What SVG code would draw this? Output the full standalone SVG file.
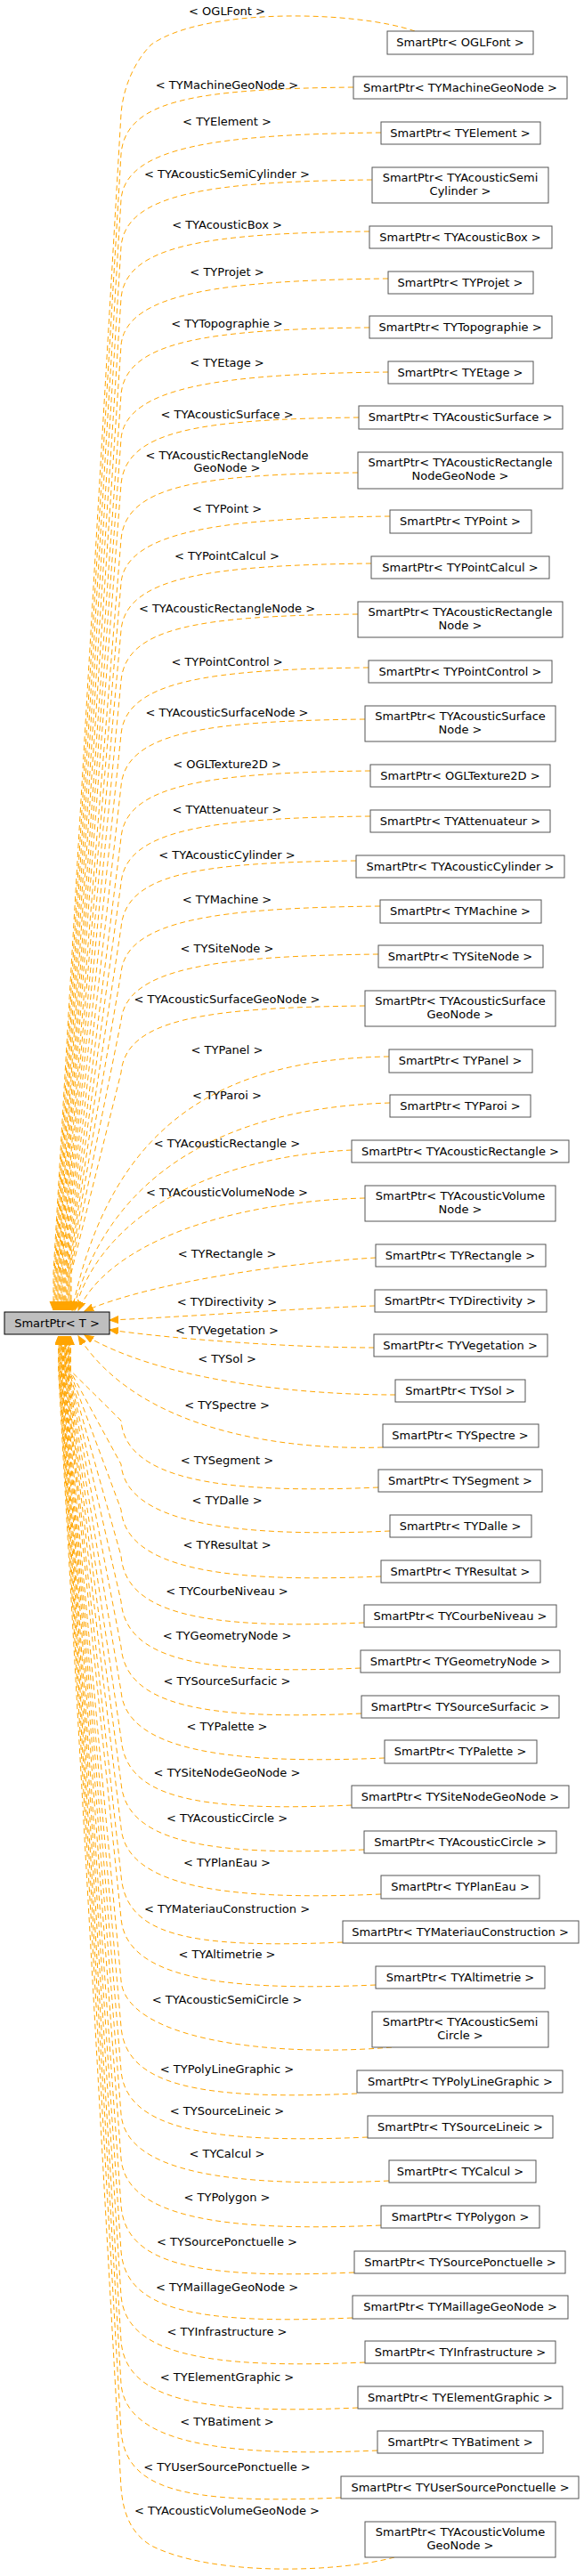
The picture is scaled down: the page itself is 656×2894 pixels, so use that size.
<svg xmlns="http://www.w3.org/2000/svg" width="656" height="2894" viewBox="0 0 656 2894">
<style>
text{font-family:"DejaVu Sans","Liberation Sans",sans-serif;font-size:13px;fill:#000;text-anchor:middle}
.n rect{fill:#fff;stroke:#555;stroke-width:1}
.root rect{fill:#bfbfbf;stroke:#000}
.e path{fill:none;stroke:#ffa500;stroke-width:1;stroke-dasharray:6,4;marker-end:url(#ah)}
</style>
<defs><marker id="ah" markerUnits="userSpaceOnUse" markerWidth="11" markerHeight="9" refX="10" refY="4" orient="auto"><path d="M0,0 L10,4 L0,8 z" fill="#ffa500" stroke="#ffa500"/></marker></defs>
<rect width="656" height="2894" fill="#fff"/>
<g id="edges" class="e">
<path d="M466,35 C400,12 230,8 170,50 C150,70 138,100 136,128 L60,1430 L60,1472"/>
<path d="M397,98 C217,100 141,113 136,173 L61,1430 L61,1472"/>
<path d="M428,149 C248,151 141,164 136,224 L62,1430 L62,1472"/>
<path d="M418,202 C238,204 141,217 136,277 L63,1430 L63,1472"/>
<path d="M415,260 C235,262 141,275 136,335 L64,1430 L64,1472"/>
<path d="M436,313 C256,315 141,328 136,388 L65,1430 L65,1472"/>
<path d="M415,368 C235,370 141,383 136,443 L66,1430 L66,1472"/>
<path d="M436,418 C256,420 141,433 136,493 L67,1430 L67,1472"/>
<path d="M403,469 C223,471 141,484 136,544 L68,1430 L68,1472"/>
<path d="M402,531 C222,533 141,546 136,606 L69,1430 L69,1472"/>
<path d="M438,580 C258,582 141,595 136,655 L70,1430 L70,1472"/>
<path d="M417,633 C237,635 141,648 136,708 L71,1430 L71,1472"/>
<path d="M402,690 C222,692 141,705 136,765 L72,1430 L72,1472"/>
<path d="M414,750 C234,752 141,765 136,825 L73,1430 L73,1472"/>
<path d="M410,808 C230,810 141,823 136,883 L74,1430 L74,1472"/>
<path d="M416,866 C236,868 141,881 136,941 L75,1430 L75,1472"/>
<path d="M416,917 C236,919 141,932 136,992 L76,1430 L76,1472"/>
<path d="M400,967 C220,969 141,982 136,1042 L77,1430 L77,1472"/>
<path d="M427,1018 C247,1020 141,1033 136,1093 L78,1430 L78,1472"/>
<path d="M425,1072 C245,1074 141,1087 136,1147 L79,1430 L79,1472"/>
<path d="M410,1130 C230,1132 141,1145 136,1205 L80,1430 L80,1472"/>
<path d="M437,1187 C250,1190 125,1260 81,1472"/>
<path d="M438,1239 C250,1245 122,1320 82,1472"/>
<path d="M395,1292 C230,1300 112,1370 84,1472"/>
<path d="M410,1346 C250,1350 120,1400 88,1472"/>
<path d="M422,1413 C330,1418 170,1440 95,1473"/>
<path d="M421,1467 C330,1470 200,1480 123,1483"/>
<path d="M420,1514 C330,1514 200,1505 123,1494"/>
<path d="M444,1567 C330,1567 180,1550 95,1500"/>
<path d="M430,1626 C300,1630 150,1600 88,1501"/>
<path d="M425,1671 C245,1679 141,1661 136,1596 L79.4,1540 L79.4,1501"/>
<path d="M438,1720 C258,1728 141,1710 136,1645 L78.8,1540 L78.8,1501"/>
<path d="M428,1771 C248,1779 141,1761 136,1696 L78.2,1540 L78.2,1501"/>
<path d="M409,1823 C229,1831 141,1813 136,1748 L77.6,1540 L77.6,1501"/>
<path d="M405,1874 C225,1882 141,1864 136,1799 L77,1540 L77,1501"/>
<path d="M406,1925 C226,1933 141,1915 136,1850 L76.4,1540 L76.4,1501"/>
<path d="M432,1975 C252,1983 141,1965 136,1900 L75.8,1540 L75.8,1501"/>
<path d="M395,2028 C215,2036 141,2018 136,1953 L75.2,1540 L75.2,1501"/>
<path d="M409,2078 C229,2086 141,2068 136,2003 L74.6,1540 L74.6,1501"/>
<path d="M428,2128 C248,2136 141,2118 136,2053 L74,1540 L74,1501"/>
<path d="M385,2182 C205,2190 141,2172 136,2107 L73.4,1540 L73.4,1501"/>
<path d="M422,2230 C242,2238 141,2220 136,2155 L72.8,1540 L72.8,1501"/>
<path d="M440,2300 C300,2312 141,2290 136,2225 L72.2,1540 L72.2,1501"/>
<path d="M401,2352 C221,2360 141,2342 136,2277 L71.6,1540 L71.6,1501"/>
<path d="M413,2401 C233,2409 141,2391 136,2326 L71,1540 L71,1501"/>
<path d="M437,2450 C257,2458 141,2440 136,2375 L70.4,1540 L70.4,1501"/>
<path d="M428,2500 C248,2508 141,2490 136,2425 L69.8,1540 L69.8,1501"/>
<path d="M398,2553 C218,2561 141,2543 136,2478 L69.2,1540 L69.2,1501"/>
<path d="M396,2604 C216,2612 141,2594 136,2529 L68.6,1540 L68.6,1501"/>
<path d="M410,2654 C230,2662 141,2644 136,2579 L68,1540 L68,1501"/>
<path d="M402,2705 C222,2713 141,2695 136,2630 L67.4,1540 L67.4,1501"/>
<path d="M424,2753 C244,2761 141,2743 136,2678 L66.8,1540 L66.8,1501"/>
<path d="M383,2806 C203,2814 141,2796 136,2731 L66.2,1540 L66.2,1501"/>
<path d="M443,2873 C380,2890 240,2895 170,2860 C145,2845 138,2820 136,2795 L65.6,1540 L65.6,1501"/>
</g>
<g id="labels">
<text x="255" y="16.5">&lt; OGLFont &gt;</text>
<text x="255" y="99.5">&lt; TYMachineGeoNode &gt;</text>
<text x="255" y="140.5">&lt; TYElement &gt;</text>
<text x="255" y="199.5">&lt; TYAcousticSemiCylinder &gt;</text>
<text x="255" y="256.5">&lt; TYAcousticBox &gt;</text>
<text x="255" y="309.5">&lt; TYProjet &gt;</text>
<text x="255" y="367.5">&lt; TYTopographie &gt;</text>
<text x="255" y="411.5">&lt; TYEtage &gt;</text>
<text x="255" y="469.5">&lt; TYAcousticSurface &gt;</text>
<text x="255" y="515.5">&lt; TYAcousticRectangleNode</text>
<text x="255" y="529.5">GeoNode &gt;</text>
<text x="255" y="575.5">&lt; TYPoint &gt;</text>
<text x="255" y="628.5">&lt; TYPointCalcul &gt;</text>
<text x="255" y="687.5">&lt; TYAcousticRectangleNode &gt;</text>
<text x="255" y="747.5">&lt; TYPointControl &gt;</text>
<text x="255" y="804.5">&lt; TYAcousticSurfaceNode &gt;</text>
<text x="255" y="862.5">&lt; OGLTexture2D &gt;</text>
<text x="255" y="913.5">&lt; TYAttenuateur &gt;</text>
<text x="255" y="964.5">&lt; TYAcousticCylinder &gt;</text>
<text x="255" y="1014.5">&lt; TYMachine &gt;</text>
<text x="255" y="1069.5">&lt; TYSiteNode &gt;</text>
<text x="255" y="1126.5">&lt; TYAcousticSurfaceGeoNode &gt;</text>
<text x="255" y="1183.5">&lt; TYPanel &gt;</text>
<text x="255" y="1234.5">&lt; TYParoi &gt;</text>
<text x="255" y="1288.5">&lt; TYAcousticRectangle &gt;</text>
<text x="255" y="1343.5">&lt; TYAcousticVolumeNode &gt;</text>
<text x="255" y="1412.5">&lt; TYRectangle &gt;</text>
<text x="255" y="1466.5">&lt; TYDirectivity &gt;</text>
<text x="255" y="1498.5">&lt; TYVegetation &gt;</text>
<text x="255" y="1530.5">&lt; TYSol &gt;</text>
<text x="255" y="1582.5">&lt; TYSpectre &gt;</text>
<text x="255" y="1644.5">&lt; TYSegment &gt;</text>
<text x="255" y="1689.5">&lt; TYDalle &gt;</text>
<text x="255" y="1739.5">&lt; TYResultat &gt;</text>
<text x="255" y="1791.5">&lt; TYCourbeNiveau &gt;</text>
<text x="255" y="1841.5">&lt; TYGeometryNode &gt;</text>
<text x="255" y="1892.5">&lt; TYSourceSurfacic &gt;</text>
<text x="255" y="1943.5">&lt; TYPalette &gt;</text>
<text x="255" y="1995.5">&lt; TYSiteNodeGeoNode &gt;</text>
<text x="255" y="2046.5">&lt; TYAcousticCircle &gt;</text>
<text x="255" y="2096.5">&lt; TYPlanEau &gt;</text>
<text x="255" y="2148.5">&lt; TYMateriauConstruction &gt;</text>
<text x="255" y="2199.5">&lt; TYAltimetrie &gt;</text>
<text x="255" y="2250.5">&lt; TYAcousticSemiCircle &gt;</text>
<text x="255" y="2328.5">&lt; TYPolyLineGraphic &gt;</text>
<text x="255" y="2375.5">&lt; TYSourceLineic &gt;</text>
<text x="255" y="2423.5">&lt; TYCalcul &gt;</text>
<text x="255" y="2472.5">&lt; TYPolygon &gt;</text>
<text x="255" y="2522.5">&lt; TYSourcePonctuelle &gt;</text>
<text x="255" y="2573.5">&lt; TYMaillageGeoNode &gt;</text>
<text x="255" y="2623.5">&lt; TYInfrastructure &gt;</text>
<text x="255" y="2674.5">&lt; TYElementGraphic &gt;</text>
<text x="255" y="2724.5">&lt; TYBatiment &gt;</text>
<text x="255" y="2775.5">&lt; TYUserSourcePonctuelle &gt;</text>
<text x="255" y="2824.5">&lt; TYAcousticVolumeGeoNode &gt;</text>
</g>
<g id="root" class="root"><rect x="5" y="1474" width="118" height="25"/><text x="64" y="1491">SmartPtr&lt; T &gt;</text></g>
<g id="n1" class="n"><rect x="435" y="35" width="164" height="26"/><text x="517" y="52">SmartPtr&lt; OGLFont &gt;</text></g>
<g id="n2" class="n"><rect x="397" y="86" width="240" height="25"/><text x="517" y="103">SmartPtr&lt; TYMachineGeoNode &gt;</text></g>
<g id="n3" class="n"><rect x="428" y="137" width="179" height="25"/><text x="517" y="154">SmartPtr&lt; TYElement &gt;</text></g>
<g id="n4" class="n"><rect x="418" y="188" width="198" height="40"/><text x="517" y="204">SmartPtr&lt; TYAcousticSemi</text><text x="517" y="219">Cylinder &gt;</text></g>
<g id="n5" class="n"><rect x="415" y="254" width="205" height="25"/><text x="517" y="271">SmartPtr&lt; TYAcousticBox &gt;</text></g>
<g id="n6" class="n"><rect x="436" y="305" width="163" height="25"/><text x="517" y="322">SmartPtr&lt; TYProjet &gt;</text></g>
<g id="n7" class="n"><rect x="415" y="355" width="205" height="25"/><text x="517" y="372">SmartPtr&lt; TYTopographie &gt;</text></g>
<g id="n8" class="n"><rect x="436" y="406" width="163" height="25"/><text x="517" y="423">SmartPtr&lt; TYEtage &gt;</text></g>
<g id="n9" class="n"><rect x="403" y="456" width="229" height="26"/><text x="517" y="473">SmartPtr&lt; TYAcousticSurface &gt;</text></g>
<g id="n10" class="n"><rect x="402" y="508" width="230" height="41"/><text x="517" y="524">SmartPtr&lt; TYAcousticRectangle</text><text x="517" y="539">NodeGeoNode &gt;</text></g>
<g id="n11" class="n"><rect x="438" y="573" width="159" height="26"/><text x="517" y="590">SmartPtr&lt; TYPoint &gt;</text></g>
<g id="n12" class="n"><rect x="417" y="625" width="200" height="25"/><text x="517" y="642">SmartPtr&lt; TYPointCalcul &gt;</text></g>
<g id="n13" class="n"><rect x="402" y="676" width="230" height="40"/><text x="517" y="692">SmartPtr&lt; TYAcousticRectangle</text><text x="517" y="707">Node &gt;</text></g>
<g id="n14" class="n"><rect x="414" y="742" width="206" height="25"/><text x="517" y="759">SmartPtr&lt; TYPointControl &gt;</text></g>
<g id="n15" class="n"><rect x="410" y="793" width="214" height="40"/><text x="517" y="809">SmartPtr&lt; TYAcousticSurface</text><text x="517" y="824">Node &gt;</text></g>
<g id="n16" class="n"><rect x="416" y="859" width="202" height="25"/><text x="517" y="876">SmartPtr&lt; OGLTexture2D &gt;</text></g>
<g id="n17" class="n"><rect x="416" y="910" width="202" height="25"/><text x="517" y="927">SmartPtr&lt; TYAttenuateur &gt;</text></g>
<g id="n18" class="n"><rect x="400" y="961" width="234" height="25"/><text x="517" y="978">SmartPtr&lt; TYAcousticCylinder &gt;</text></g>
<g id="n19" class="n"><rect x="427" y="1011" width="181" height="26"/><text x="517" y="1028">SmartPtr&lt; TYMachine &gt;</text></g>
<g id="n20" class="n"><rect x="425" y="1062" width="185" height="25"/><text x="517" y="1079">SmartPtr&lt; TYSiteNode &gt;</text></g>
<g id="n21" class="n"><rect x="410" y="1113" width="214" height="40"/><text x="517" y="1129">SmartPtr&lt; TYAcousticSurface</text><text x="517" y="1144">GeoNode &gt;</text></g>
<g id="n22" class="n"><rect x="437" y="1179" width="161" height="26"/><text x="517" y="1196">SmartPtr&lt; TYPanel &gt;</text></g>
<g id="n23" class="n"><rect x="438" y="1230" width="158" height="25"/><text x="517" y="1247">SmartPtr&lt; TYParoi &gt;</text></g>
<g id="n24" class="n"><rect x="395" y="1281" width="244" height="25"/><text x="517" y="1298">SmartPtr&lt; TYAcousticRectangle &gt;</text></g>
<g id="n25" class="n"><rect x="410" y="1332" width="214" height="40"/><text x="517" y="1348">SmartPtr&lt; TYAcousticVolume</text><text x="517" y="1363">Node &gt;</text></g>
<g id="n26" class="n"><rect x="422" y="1398" width="191" height="25"/><text x="517" y="1415">SmartPtr&lt; TYRectangle &gt;</text></g>
<g id="n27" class="n"><rect x="421" y="1449" width="193" height="25"/><text x="517" y="1466">SmartPtr&lt; TYDirectivity &gt;</text></g>
<g id="n28" class="n"><rect x="420" y="1499" width="195" height="25"/><text x="517" y="1516">SmartPtr&lt; TYVegetation &gt;</text></g>
<g id="n29" class="n"><rect x="444" y="1550" width="146" height="25"/><text x="517" y="1567">SmartPtr&lt; TYSol &gt;</text></g>
<g id="n30" class="n"><rect x="430" y="1600" width="175" height="26"/><text x="517" y="1617">SmartPtr&lt; TYSpectre &gt;</text></g>
<g id="n31" class="n"><rect x="425" y="1651" width="184" height="25"/><text x="517" y="1668">SmartPtr&lt; TYSegment &gt;</text></g>
<g id="n32" class="n"><rect x="438" y="1702" width="159" height="25"/><text x="517" y="1719">SmartPtr&lt; TYDalle &gt;</text></g>
<g id="n33" class="n"><rect x="428" y="1753" width="179" height="25"/><text x="517" y="1770">SmartPtr&lt; TYResultat &gt;</text></g>
<g id="n34" class="n"><rect x="409" y="1803" width="216" height="25"/><text x="517" y="1820">SmartPtr&lt; TYCourbeNiveau &gt;</text></g>
<g id="n35" class="n"><rect x="405" y="1854" width="224" height="25"/><text x="517" y="1871">SmartPtr&lt; TYGeometryNode &gt;</text></g>
<g id="n36" class="n"><rect x="406" y="1905" width="222" height="25"/><text x="517" y="1922">SmartPtr&lt; TYSourceSurfacic &gt;</text></g>
<g id="n37" class="n"><rect x="432" y="1955" width="171" height="26"/><text x="517" y="1972">SmartPtr&lt; TYPalette &gt;</text></g>
<g id="n38" class="n"><rect x="395" y="2006" width="244" height="25"/><text x="517" y="2023">SmartPtr&lt; TYSiteNodeGeoNode &gt;</text></g>
<g id="n39" class="n"><rect x="409" y="2057" width="216" height="25"/><text x="517" y="2074">SmartPtr&lt; TYAcousticCircle &gt;</text></g>
<g id="n40" class="n"><rect x="428" y="2107" width="178" height="26"/><text x="517" y="2124">SmartPtr&lt; TYPlanEau &gt;</text></g>
<g id="n41" class="n"><rect x="385" y="2158" width="265" height="25"/><text x="517" y="2175">SmartPtr&lt; TYMateriauConstruction &gt;</text></g>
<g id="n42" class="n"><rect x="422" y="2209" width="190" height="25"/><text x="517" y="2226">SmartPtr&lt; TYAltimetrie &gt;</text></g>
<g id="n43" class="n"><rect x="418" y="2260" width="198" height="40"/><text x="517" y="2276">SmartPtr&lt; TYAcousticSemi</text><text x="517" y="2291">Circle &gt;</text></g>
<g id="n44" class="n"><rect x="401" y="2326" width="231" height="25"/><text x="517" y="2343">SmartPtr&lt; TYPolyLineGraphic &gt;</text></g>
<g id="n45" class="n"><rect x="413" y="2377" width="208" height="25"/><text x="517" y="2394">SmartPtr&lt; TYSourceLineic &gt;</text></g>
<g id="n46" class="n"><rect x="437" y="2427" width="165" height="25"/><text x="517" y="2444">SmartPtr&lt; TYCalcul &gt;</text></g>
<g id="n47" class="n"><rect x="428" y="2478" width="178" height="25"/><text x="517" y="2495">SmartPtr&lt; TYPolygon &gt;</text></g>
<g id="n48" class="n"><rect x="398" y="2529" width="237" height="25"/><text x="517" y="2546">SmartPtr&lt; TYSourcePonctuelle &gt;</text></g>
<g id="n49" class="n"><rect x="396" y="2579" width="242" height="26"/><text x="517" y="2596">SmartPtr&lt; TYMaillageGeoNode &gt;</text></g>
<g id="n50" class="n"><rect x="410" y="2630" width="214" height="25"/><text x="517" y="2647">SmartPtr&lt; TYInfrastructure &gt;</text></g>
<g id="n51" class="n"><rect x="402" y="2681" width="230" height="25"/><text x="517" y="2698">SmartPtr&lt; TYElementGraphic &gt;</text></g>
<g id="n52" class="n"><rect x="424" y="2731" width="186" height="25"/><text x="517" y="2748">SmartPtr&lt; TYBatiment &gt;</text></g>
<g id="n53" class="n"><rect x="383" y="2782" width="267" height="25"/><text x="517" y="2799">SmartPtr&lt; TYUserSourcePonctuelle &gt;</text></g>
<g id="n54" class="n"><rect x="410" y="2833" width="214" height="40"/><text x="517" y="2849">SmartPtr&lt; TYAcousticVolume</text><text x="517" y="2864">GeoNode &gt;</text></g>
</svg>
